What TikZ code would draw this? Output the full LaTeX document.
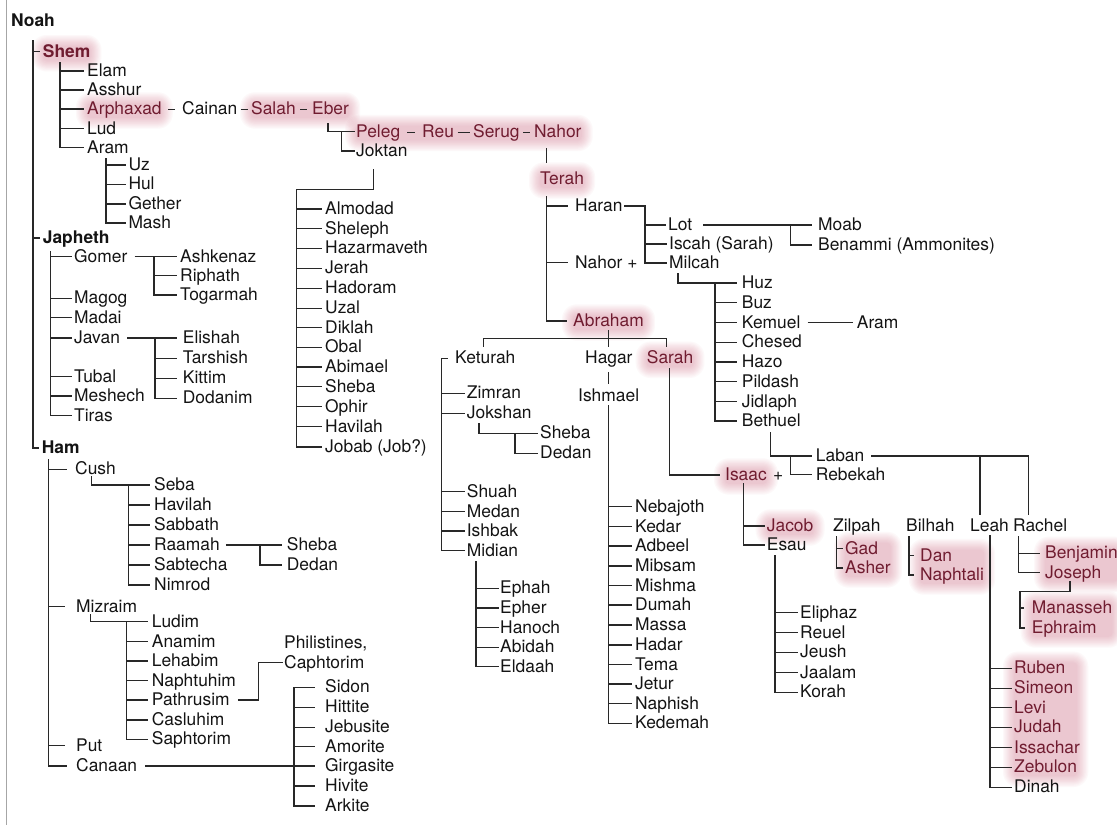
\documentclass[tikz,border=0pt]{standalone}
\usepackage{fontspec}
\setmainfont{TeX Gyre Heros}
\usetikzlibrary{calc,fit}
\pgfdeclarelayer{bg}
\pgfsetlayers{bg,main}
\definecolor{txt}{RGB}{20,20,20}
\definecolor{lnc}{RGB}{40,40,40}
\definecolor{hlred}{RGB}{112,28,48}
\definecolor{hlpink}{RGB}{205,100,125}
\newcommand\myfs{\fontsize{17.4}{20}\selectfont}
\newcommand\mydash[3]{\draw[ln,line width=1pt] ($(#1.east)!0.5!(#2.west)+(-#3/2,0.5)$) -- +(#3,0);}
\begin{document}
\begin{tikzpicture}[x=1pt,y=-1pt,
  t/.style={anchor=west,inner sep=0pt,text height=11pt,text depth=0pt,font=\myfs,text=txt},
  b/.style={t,font=\myfs\bfseries},
  hl/.style={text=hlred},
  ln/.style={draw=lnc,line width=1.1pt},
  gap/.style={shorten >=#1}]
\useasboundingbox (0,0) rectangle (1117,825);
\begin{pgfonlayer}{bg}
\fill[white] (0,0) rectangle (1117,825);
\end{pgfonlayer}
\draw[gray!70,line width=1pt] (6,0) -- (6,825);

% ---------- Noah & sons
\node[b] (noah) at (11,21) {Noah};
\node[b,hl] (shem) at (42.7,51.7) {Shem};
\node[b] (japheth) at (42.7,238) {Japheth};
\node[b] (ham) at (41.7,448) {Ham};
\coordinate (noahV) at (33,40);
\foreach \c in {shem,japheth,ham} \draw[ln,gap=2.5pt] (noahV) |- (\c.west);

% ---------- Shem
\node[t] (elam) at (87,71) {Elam};
\node[t] (asshur) at (87,90) {Asshur};
\node[t,hl] (arph) at (87,109) {Arphaxad};
\node[t] (cainan) at (182,109) {Cainan};
\node[t,hl] (salah) at (251,109) {Salah};
\node[t,hl] (eber) at (312,109) {Eber};
\node[t] (lud) at (87,128.5) {Lud};
\node[t] (aram) at (87,147.5) {Aram};
\coordinate (shemV) at (60,62);
\foreach \c in {elam,asshur,arph,lud,aram} \draw[ln,gap=3pt] (shemV) |- (\c.west);
\mydash{arph}{cainan}{7}
\mydash{cainan}{salah}{7}
\mydash{salah}{eber}{7}

\node[t] (uz) at (128.3,165) {Uz};
\node[t] (hul) at (128.3,184.3) {Hul};
\node[t] (gether) at (128.3,204) {Gether};
\node[t] (mash) at (128.3,223) {Mash};
\coordinate (aramV) at (106,158);
\foreach \c in {uz,hul,gether,mash} \draw[ln,gap=2pt] (aramV) |- (\c.west);

\node[t,hl] (peleg) at (356,131.5) {Peleg};
\node[t,hl] (reu) at (422,131.5) {Reu};
\node[t,hl] (serug) at (473,131.5) {Serug};
\node[t,hl] (nahorA) at (534,131.5) {Nahor};
\node[t] (joktan) at (356,151) {Joktan};
\mydash{peleg}{reu}{8}
\mydash{reu}{serug}{12}
\mydash{serug}{nahorA}{7}
\coordinate (eberC) at (328,123);
\coordinate (ebJ) at (341.7,131.5);
\draw[ln,gap=1pt] (eberC) |- (peleg.west);
\draw[ln,gap=1pt] (ebJ) |- (joktan.west);

% Joktan's sons
\node[t] (almodad) at (325,209) {Almodad};
\node[t] (sheleph) at (325,228.5) {Sheleph};
\node[t] (hazarm) at (325,248.3) {Hazarmaveth};
\node[t] (jerah) at (325,268.3) {Jerah};
\node[t] (hadoram) at (325,288.3) {Hadoram};
\node[t] (uzal) at (325,308.3) {Uzal};
\node[t] (diklah) at (325,327.8) {Diklah};
\node[t] (obal) at (325,347.3) {Obal};
\node[t] (abimael) at (325,367) {Abimael};
\node[t] (shebaA) at (325,386.7) {Sheba};
\node[t] (ophir) at (325,406.7) {Ophir};
\node[t] (havilahA) at (325,426.7) {Havilah};
\node[t] (jobab) at (325,447) {Jobab (Job?)};
\coordinate (jokT) at (373.3,169);
\coordinate (jokV) at (296.7,189.3);
\draw[ln] (jokT) |- (jokV);
\foreach \c in {almodad,sheleph,hazarm,jerah,hadoram,uzal,diklah,obal,abimael,shebaA,ophir,havilahA,jobab}
  \draw[ln,gap=3.3pt] (jokV) |- (\c.west);

% ---------- Terah
\node[t,hl] (terah) at (540,179) {Terah};
\draw[ln] ($(nahorA.west)+(12.7,16.5)$) -- ($(terah.west)+(6.7,-16)$);
\node[t] (haran) at (575,206) {Haran};
\node[t] (nahorB) at (575,262.7) {Nahor +};
\node[t,hl] (abraham) at (573,321) {Abraham};
\coordinate (terahV) at (546.7,196);
\draw[ln,gap=7pt] (terahV) |- (haran.west);
\draw[ln,gap=7pt] (terahV) |- (nahorB.west);
\draw[ln,gap=6pt] (terahV) |- (abraham.west);

\node[t] (lot) at (668,225) {Lot};
\node[t] (iscah) at (669,244) {Iscah (Sarah)};
\node[t] (milcah) at (669,263) {Milcah};
\coordinate (haranV) at (645,206);
\draw[ln,shorten <=1.5pt,gap=2pt] (haran.east) -- (haranV) |- (milcah.west);
\draw[ln,gap=2pt] (haranV) |- (lot.west);
\draw[ln,gap=2pt] (haranV) |- (iscah.west);

\node[t] (moab) at (818,225) {Moab};
\node[t] (benammi) at (818,245) {Benammi (Ammonites)};
\coordinate (lotJ) at (790.7,225);
\draw[ln,shorten <=11pt,gap=6pt] (lot.east) -- (moab.west);
\draw[ln,gap=6pt] (lotJ) |- (benammi.west);

\node[t] (huz) at (741.7,283) {Huz};
\node[t] (buz) at (741.7,302.7) {Buz};
\node[t] (kemuel) at (741.7,322.7) {Kemuel};
\node[t] (chesed) at (741.7,342.3) {Chesed};
\node[t] (hazo) at (741.7,362) {Hazo};
\node[t] (pildash) at (741.7,381.7) {Pildash};
\node[t] (jidlaph) at (741.7,401.7) {Jidlaph};
\node[t] (bethuel) at (741.7,421) {Bethuel};
\node[t] (aramB) at (856.7,322.7) {Aram};
\coordinate (milC) at (678,273);
\coordinate (milV) at (715,283);
\draw[ln,gap=4.7pt] (milC) |- (huz.west);
\foreach \c in {buz,kemuel,chesed,hazo,pildash,jidlaph,bethuel} \draw[ln,gap=4.7pt] (milV) |- (\c.west);
\draw[ln,shorten <=7pt,gap=3.4pt] (kemuel.east) -- (aramB.west);

\node[t] (laban) at (815.7,456) {Laban};
\node[t] (rebekah) at (815.7,474.5) {Rebekah};
\coordinate (bethC) at (770.7,432);
\coordinate (bethJ) at (790.7,456);
\draw[ln,gap=4pt] (bethC) |- (laban.west);
\draw[ln,gap=4pt] (bethJ) |- (rebekah.west);

\node[t] (leah) at (970,526) {Leah};
\node[t] (rachel) at (1013,526) {Rachel};
\coordinate (labR) at (1028.3,456);
\coordinate (labJ) at (980,456);
\draw[ln,shorten <=7pt,gap=5pt] (laban.east) -- (labR) -- (labR |- rachel.north);
\draw[ln,gap=5pt] (labJ) -- (labJ |- leah.north);

% ---------- Abraham
\node[t] (keturah) at (455,358.3) {Keturah};
\node[t] (hagar) at (585,358.3) {Hagar};
\node[t,hl] (sarah) at (646.7,358.3) {Sarah};
\node[t] (ishmael) at (578,396) {Ishmael};
\coordinate (abrV) at (608.3,330);
\coordinate (ketJ) at (483.3,338.3);
\coordinate (sarJ) at (666.7,338.3);
\draw[ln] (ketJ) -- (sarJ);
\draw[ln] (ketJ) -- ($(ketJ |- keturah.north)+(0,-6)$);
\draw[ln] (sarJ) -- ($(sarJ |- sarah.north)+(0,-6)$);
\draw[ln] (abrV) -- ($(abrV |- hagar.north)+(0,-6)$);
\draw[ln] ($(abrV |- hagar.south)+(0,8)$) -- ($(abrV |- ishmael.north)+(0,-6)$);

\node[t] (zimran) at (466.7,393.3) {Zimran};
\node[t] (jokshan) at (466.7,413.3) {Jokshan};
\node[t] (shuah) at (466.7,491.7) {Shuah};
\node[t] (medan) at (466.7,511.7) {Medan};
\node[t] (ishbak) at (466.7,531) {Ishbak};
\node[t] (midian) at (466.7,550.7) {Midian};
\coordinate (ketV) at (441.7,358.3);
\draw[ln,gap=7pt] (ketV) -- (keturah.west);
\foreach \c in {zimran,jokshan,shuah,medan,ishbak,midian} \draw[ln,gap=2pt] (ketV) |- (\c.west);

\node[t] (shebaB) at (540,433.3) {Sheba};
\node[t] (dedanB) at (540,453.3) {Dedan};
\coordinate (jokshC) at (479,423);
\coordinate (jokshJ) at (515,433.3);
\draw[ln,gap=2pt] (jokshC) |- (shebaB.west);
\draw[ln,gap=2pt] (jokshJ) |- (dedanB.west);

\node[t] (ephah) at (500,588.3) {Ephah};
\node[t] (epher) at (500,608) {Epher};
\node[t] (hanoch) at (500,627.5) {Hanoch};
\node[t] (abidah) at (500,647.3) {Abidah};
\node[t] (eldaah) at (500,666.7) {Eldaah};
\coordinate (midV) at (476,561);
\foreach \c in {ephah,epher,hanoch,abidah,eldaah} \draw[ln,gap=1.5pt] (midV) |- (\c.west);

\node[t] (nebajoth) at (635,506.7) {Nebajoth};
\node[t] (kedar) at (635,526.7) {Kedar};
\node[t] (adbeel) at (635,546) {Adbeel};
\node[t] (mibsam) at (635,566) {Mibsam};
\node[t] (mishma) at (635,585.5) {Mishma};
\node[t] (dumah) at (635,605) {Dumah};
\node[t] (massa) at (635,625) {Massa};
\node[t] (hadar) at (635,645) {Hadar};
\node[t] (tema) at (635,664.5) {Tema};
\node[t] (jetur) at (635,684) {Jetur};
\node[t] (naphish) at (635,703.5) {Naphish};
\node[t] (kedemah) at (635,723.3) {Kedemah};
\coordinate (ishV) at (608.3,405);
\foreach \c in {nebajoth,kedar,adbeel,mibsam,mishma,dumah,massa,hadar,tema,jetur,naphish,kedemah}
  \draw[ln,gap=3pt] (ishV) |- (\c.west);

\node[t,hl] (isaac) at (725,475) {Isaac};
\node[t] (isaacp) at (773,475) {+};
\coordinate (sarV) at (669.3,368);
\draw[ln,gap=5pt] (sarV) |- (isaac.west);

\node[t,hl] (jacob) at (766.7,526) {Jacob};
\node[t] (esau) at (766.7,545) {Esau};
\coordinate (isaV) at (743.3,483);
\draw[ln,gap=2pt] (isaV) |- (jacob.west);
\draw[ln,gap=2pt] (isaV) |- (esau.west);

\node[t] (eliphaz) at (800,612.7) {Eliphaz};
\node[t] (reuel) at (800,632.5) {Reuel};
\node[t] (jeush) at (800,652.3) {Jeush};
\node[t] (jaalam) at (800,672.5) {Jaalam};
\node[t] (korah) at (800,692.3) {Korah};
\coordinate (esauV) at (775,555);
\foreach \c in {eliphaz,reuel,jeush,jaalam,korah} \draw[ln,gap=2.5pt] (esauV) |- (\c.west);

\node[t] (zilpah) at (833,526) {Zilpah};
\node[t,hl] (gad) at (845,548.5) {Gad};
\node[t,hl] (asher) at (845,568) {Asher};
\coordinate (zilV) at (836.7,536);
\draw[ln,gap=2.5pt] (zilV) |- (gad.west);
\draw[ln,gap=2.5pt] (zilV) |- (asher.west);

\node[t] (bilhah) at (906,526) {Bilhah};
\node[t,hl] (dan) at (920,555.5) {Dan};
\node[t,hl] (naphtali) at (920,575) {Naphtali};
\coordinate (bilV) at (909,536);
\draw[ln,gap=6pt] (bilV) |- (dan.west);
\draw[ln,gap=6pt] (bilV) |- (naphtali.west);

\node[t,hl] (benjamin) at (1045,553.3) {Benjamin};
\node[t,hl] (joseph) at (1045,572.7) {Joseph};
\coordinate (racV) at (1018.3,536);
\draw[ln,gap=5pt] (racV) |- (benjamin.west);
\draw[ln,gap=5pt] (racV) |- (joseph.west);

\node[t,hl] (manasseh) at (1031.7,608) {Manasseh};
\node[t,hl] (ephraim) at (1031.7,628) {Ephraim};
\coordinate (josC) at (1070,581);
\coordinate (josJ) at (1020,591.7);
\draw[ln,gap=6.7pt] (josC) |- (josJ) |- (ephraim.west);
\draw[ln,gap=7.7pt] (josJ) |- (manasseh.west);

\node[t,hl] (ruben) at (1014,668.3) {Ruben};
\node[t,hl] (simeon) at (1014,688.3) {Simeon};
\node[t,hl] (levi) at (1014,707.7) {Levi};
\node[t,hl] (judah) at (1014,727.3) {Judah};
\node[t,hl] (issachar) at (1014,747.7) {Issachar};
\node[t,hl] (zebulon) at (1014,767.3) {Zebulon};
\node[t] (dinah) at (1014,787.3) {Dinah};
\coordinate (leahV) at (990,535);
\foreach \c in {ruben,simeon,levi,judah,issachar,zebulon,dinah} \draw[ln,gap=2.3pt] (leahV) |- (\c.west);

% ---------- Japheth
\node[t] (gomer) at (74,256.5) {Gomer};
\node[t] (magog) at (74,298.3) {Magog};
\node[t] (madai) at (74,317.5) {Madai};
\node[t] (javan) at (74,338) {Javan};
\node[t] (tubal) at (74,376.7) {Tubal};
\node[t] (meshech) at (74,396) {Meshech};
\node[t] (tiras) at (74,415.7) {Tiras};
\coordinate (japV) at (50.7,251);
\foreach \c in {gomer,magog,madai,javan,tubal,meshech,tiras} \draw[ln,gap=2.3pt] (japV) |- (\c.west);

\node[t] (ashkenaz) at (180,256.5) {Ashkenaz};
\node[t] (riphath) at (180,275.5) {Riphath};
\node[t] (togarmah) at (180,295) {Togarmah};
\coordinate (gomJ) at (154,256.5);
\draw[ln,shorten <=7pt,gap=3.3pt] (gomer.east) -- (ashkenaz.west);
\draw[ln,gap=3.3pt] (gomJ) |- (riphath.west);
\draw[ln,gap=3.3pt] (gomJ) |- (togarmah.west);

\node[t] (elishah) at (182.7,338) {Elishah};
\node[t] (tarshish) at (182.7,358.3) {Tarshish};
\node[t] (kittim) at (182.7,378.3) {Kittim};
\node[t] (dodanim) at (182.7,398.3) {Dodanim};
\coordinate (javJ) at (155,338);
\draw[ln,shorten <=7pt,gap=6pt] (javan.east) -- (elishah.west);
\foreach \c in {tarshish,kittim,dodanim} \draw[ln,gap=6pt] (javJ) |- (\c.west);

% ---------- Ham
\node[t] (cush) at (75,469.3) {Cush};
\node[t] (mizraim) at (76,606.5) {Mizraim};
\node[t] (put) at (76,745.5) {Put};
\node[t] (canaan) at (76,766) {Canaan};
\coordinate (hamV) at (48.3,459);
\draw[ln,gap=8pt] (hamV) |- (cush.west);
\draw[ln,gap=11pt] (hamV) |- (mizraim.west);
\draw[ln,gap=11pt] (hamV) |- (put.west);
\draw[ln,gap=9pt] (hamV) |- (canaan.west);

\node[t] (seba) at (154,485) {Seba};
\node[t] (havilahB) at (154,505) {Havilah};
\node[t] (sabbath) at (154,525) {Sabbath};
\node[t] (raamah) at (154,545) {Raamah};
\node[t] (sabtecha) at (154,565) {Sabtecha};
\node[t] (nimrod) at (154,585) {Nimrod};
\coordinate (cushC) at (91.7,476);
\coordinate (cushV) at (128.3,485);
\draw[ln,gap=4pt] (cushC) |- (seba.west);
\foreach \c in {havilahB,sabbath,raamah,sabtecha,nimrod} \draw[ln,gap=4pt] (cushV) |- (\c.west);

\node[t] (shebaC) at (286.7,545) {Sheba};
\node[t] (dedanC) at (286.7,565) {Dedan};
\coordinate (raaJ) at (260,545);
\draw[ln,shorten <=6pt,gap=5pt] (raamah.east) -- (shebaC.west);
\draw[ln,gap=5pt] (raaJ) |- (dedanC.west);

\node[t] (ludim) at (151.7,621.7) {Ludim};
\node[t] (anamim) at (151.7,641.7) {Anamim};
\node[t] (lehabim) at (151.7,661) {Lehabim};
\node[t] (naphtuhim) at (151.7,680.7) {Naphtuhim};
\node[t] (pathrusim) at (151.7,700) {Pathrusim};
\node[t] (casluhim) at (151.7,720) {Casluhim};
\node[t] (saphtorim) at (151.7,739.3) {Saphtorim};
\coordinate (mizC) at (90.7,614);
\coordinate (mizV) at (126.7,621.7);
\draw[ln,gap=3.3pt] (mizC) |- (ludim.west);
\foreach \c in {anamim,lehabim,naphtuhim,pathrusim,casluhim,saphtorim} \draw[ln,gap=3.3pt] (mizV) |- (\c.west);

\node[t] (phil) at (284,642.7) {Philistines,};
\node[t] (caph) at (284,662.7) {Caphtorim};
\coordinate (pathJ) at (258.3,700);
\draw[ln,shorten <=8pt,gap=1.5pt] (pathrusim.east) -- (pathJ) |- (caph.west);

\node[t] (sidon) at (325,687.3) {Sidon};
\node[t] (hittite) at (325,707.3) {Hittite};
\node[t] (jebusite) at (325,727.3) {Jebusite};
\node[t] (amorite) at (325,746.7) {Amorite};
\node[t] (girgasite) at (325,766) {Girgasite};
\node[t] (hivite) at (325,786) {Hivite};
\node[t] (arkite) at (325,806) {Arkite};
\coordinate (canV) at (294,687.3);
\draw[ln,shorten <=8pt,gap=10pt] (canaan.east) -- (girgasite.west);
\foreach \c in {sidon,hittite,jebusite,amorite,hivite,arkite} \draw[ln,gap=10pt] (canV) |- (\c.west);

% ---------- soft glow highlights
\begin{pgfonlayer}{bg}
\foreach \a/\b in {shem/shem,arph/arph,salah/eber,peleg/nahorA,terah/terah,abraham/abraham,sarah/sarah,isaac/isaac,jacob/jacob,gad/asher,dan/naphtali,benjamin/joseph,manasseh/ephraim,ruben/zebulon}{
  \node[inner sep=0pt,fit=(\a)(\b)] (gl) {};
  \foreach \k in {0,...,9}{
    \fill[hlpink,fill opacity=0.04,rounded corners={4pt+\k*1.2pt}]
      ([xshift={-\k*1.2pt},yshift={\k*1.2pt}]gl.north west) rectangle
      ([xshift={\k*1.2pt},yshift={-\k*1.2pt-3pt}]gl.south east);
  }
}
\end{pgfonlayer}
\end{tikzpicture}
\end{document}
